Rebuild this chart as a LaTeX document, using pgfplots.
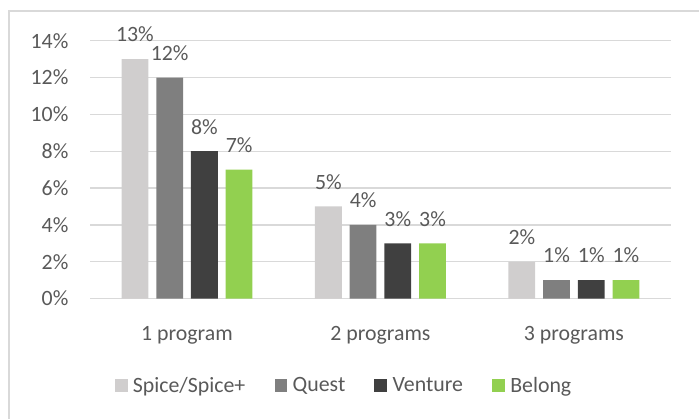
\documentclass[border=0pt]{standalone}
\usepackage{pgfplots}
\pgfplotsset{compat=1.18}
\usepackage{fontspec}
\setmainfont{Carlito}
\definecolor{cSpice}{HTML}{D0CECE}
\definecolor{cQuest}{HTML}{7F7F7F}
\definecolor{cVenture}{HTML}{404040}
\definecolor{cBelong}{HTML}{92D050}
\definecolor{cGrid}{HTML}{D9D9D9}
\definecolor{cText}{HTML}{595959}
\begin{document}
\begin{tikzpicture}[x=0.75pt,y=0.75pt]
\path (0,0) rectangle (700,417);
\draw[cGrid, line width=0.9pt] (9,-5) -- (9,406) -- (705,406);
\begin{axis}[
  at={(91pt*0.75,116pt*0.75)}, anchor=south west,
  scale only axis, width=585*0.75pt, height=260*0.75pt,
  ybar=6pt, bar width=20.25pt,
  xmin=-0.5, xmax=2.5, ymin=0, ymax=14,
  xtick={0,1,2}, xticklabels={1 program,2 programs,3 programs},
  ytick={0,2,...,14},
  yticklabel={\pgfmathprintnumber{\tick}\%},
  /pgf/number format/assume math mode=true,
  font=\fontsize{16.5}{19}\selectfont,
  tick label style={text=cText},
  xticklabel style={yshift=-17.5pt},
  yticklabel style={xshift=-13pt},
  major tick length=0pt,
  axis line style={draw=none},
  axis x line*=bottom,
  ymajorgrids, grid style={cGrid, line width=0.9pt},
  extra y ticks={0}, extra y tick labels={},
  extra y tick style={grid style={cGrid, line width=1.2pt}},
  clip=false,
  nodes near coords={\pgfmathprintnumber{\pgfplotspointmeta}\%},
  nodes near coords style={font=\fontsize{16.5}{19}\selectfont, text=cText, anchor=base, yshift=13pt},
  every axis plot/.append style={draw=none},
  legend style={at={(0.440,-0.338)}, anchor=center, draw=none, fill=none,
    legend columns=4, font=\fontsize{16.5}{19}\selectfont, text=cText,
    nodes={inner xsep=4pt},
    /tikz/every even column/.append style={column sep=18pt}},
  legend image code/.code={\fill[#1] (0pt,-4.9pt) rectangle (9.75pt,4.9pt);},
]
\addplot[fill=cSpice] coordinates {(0,13) (1,5) (2,2)};
\addplot[fill=cQuest] coordinates {(0,12) (1,4) (2,1)};
\addplot[fill=cVenture] coordinates {(0,8) (1,3) (2,1)};
\addplot[fill=cBelong] coordinates {(0,7) (1,3) (2,1)};
\legend{Spice/Spice+,Quest,Venture,Belong}
\end{axis}
\end{tikzpicture}
\end{document}
